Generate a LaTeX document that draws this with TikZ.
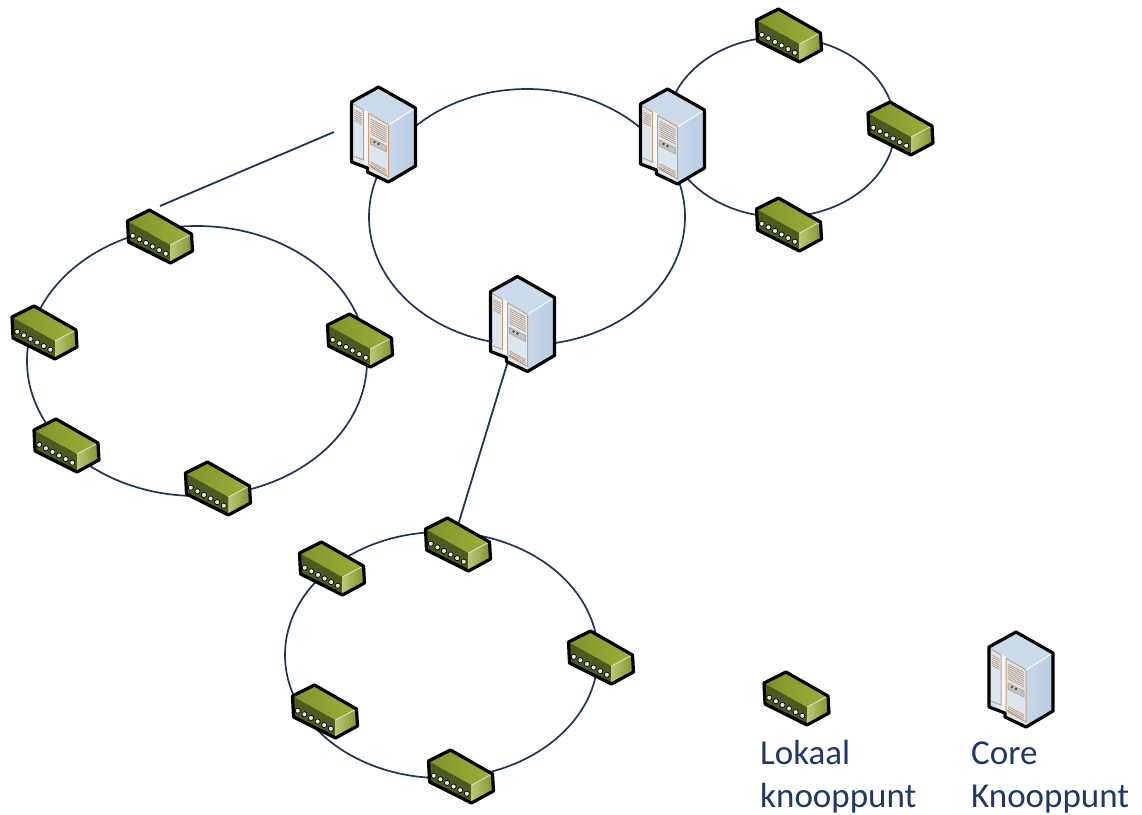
\documentclass[tikz,border=0pt]{standalone}
\usepackage{fontspec}
\setmainfont{Carlito}
\definecolor{ringc}{HTML}{1F3550}
\definecolor{labelc}{HTML}{1F3864}
\definecolor{trim}{HTML}{C8A27C}
\definecolor{switchlight}{HTML}{9DB03C}
\definecolor{switchdark}{HTML}{7F9228}
\definecolor{switchface}{HTML}{4C5C1C}
\definecolor{srvtop}{HTML}{CBDAEB}
\definecolor{srvright}{HTML}{BACDE3}
\definecolor{srvfront}{HTML}{DDE5EF}
\tikzset{
  ring/.style={draw=ringc,line width=1.7pt},
  link/.style={draw=ringc,line width=1.8pt},
  anchorbox/.style={inner sep=0pt,minimum width=60pt,minimum height=50pt},
  edge/.style={draw=black,line width=3.2pt,line join=round},
  legendtext/.style={text=labelc,font=\fontsize{35}{42.5}\selectfont,align=left,anchor=north west,inner sep=0pt},
  switchpic/.pic={
    \shade[left color=switchdark,right color=switchlight] (-11,-26)--(-33,-15)--(10,9)--(31,-2)--cycle;
    \fill[switchface] (-33,-15)--(-32,6)--(10,27)--(10,9)--cycle;
    \shade[left color=switchlight!70!white,right color=switchdark] (10,9)--(31,-2)--(32,15)--(10,27)--cycle;
    \foreach \i in {0,...,5}{
      \draw[black!70,line width=1.2pt] (-27.7+6.6*\i,-7+3.6*\i)--++(0,3);
      \fill[white!90!black,draw=black,line width=.7pt] (-27.7+6.6*\i,-0.3+3.6*\i) circle (2.6);
    }
    \draw[white!70!switchlight,line width=.8pt] (10,9)--(31,-2);
    \draw[edge] (-11,-26)--(-33,-15)--(-32,6)--(10,27)--(32,15)--(31,-2)--cycle;
  },
  serverpic/.pic={
    \fill[srvtop] (-5,-47)--(-32,-32)--(5,-9)--(32,-26)--cycle;
    \shade[left color=srvright!80!white,right color=srvright] (5,-9)--(32,-26)--(32,32)--(5,48)--cycle;
    \fill[srvfront] (-32,-32)--(5,-9)--(5,48)--(-16,38)--(-16,34)--(-32,28)--cycle;
    \fill[white!70!srvfront] (-20,-25)--(-15,-22)--(-15,34)--(-20,30)--cycle;
    \draw[trim,line width=1pt] (-30,-30)--(-20,-24)--(-20,26)--(-30,22);
    \draw[trim,line width=1pt] (-15,31)--(-15,-20.7)--(5,-9)--(5,43)--cycle;
    \foreach \i in {0,...,7}{
      \draw[trim!90!black,line width=.6pt] (-13,-15+2.1*\i)--(3,-6.5+2.1*\i);
      \ifnum\i<6\draw[trim!90!black,line width=.6pt] (-29,-24+2.1*\i)--(-21.5,-20+2.1*\i);\fi
    }
    \foreach \i in {0,...,3}{
      \draw[trim!90!black,line width=.6pt] (-13,27.5+1.9*\i)--(3,36+1.9*\i);
    }
    \draw[trim,fill=srvfront!85!black,line width=.8pt] (-13,4)--(3,12)--(3,18)--(-13,10)--cycle;
    \fill[black!70] (-9,8) circle (1.4) (-5,10) circle (1.4);
    \draw[white,line width=.8pt] (5,-9)--(32,-26);
    \draw[edge] (-5,-47)--(-32,-32)--(-32,28)--(-16,34)--(-16,38)--(5,48)--(32,32)--(32,-26)--cycle;
  },
}
\newcommand{\switchat}[3]{\node[anchorbox] (#1) at (#2,#3) {};\pic at (#2,#3) {switchpic};}
\newcommand{\serverat}[3]{\node[anchorbox] (#1) at (#2,#3) {};\pic at (#2,#3) {serverpic};}
\begin{document}
\begin{tikzpicture}[x=1pt,y=-1pt]
\useasboundingbox (0,0) rectangle (1142,814);
% rings
\draw[ring] (197,361) ellipse [x radius=170,y radius=135];
\draw[ring] (527,217) ellipse [x radius=158,y radius=128];
\draw[ring] (781,127) ellipse [x radius=114,y radius=90];
\draw[ring] (441.5,655) ellipse [x radius=156.5,y radius=123];
% links
\coordinate (lnkA) at (334,132);
\coordinate (lnkB) at (160,206);
\draw[link] (lnkA)--(lnkB);
\coordinate (lnkC) at (515,338);
\coordinate (lnkD) at (455,535);
\draw[link] (lnkC)--(lnkD);
% devices
\switchat{tr1}{789.5}{35}
\switchat{tr2}{901}{128}
\switchat{tr3}{789.5}{224}
\switchat{l1}{160.5}{236}
\switchat{l2}{45}{332}
\switchat{l3}{360.5}{340}
\switchat{l4}{67}{445}
\switchat{l5}{218.5}{488}
\switchat{b1}{458.5}{544}
\switchat{b2}{332.5}{568}
\switchat{b3}{601.5}{657}
\switchat{b4}{325.5}{711}
\switchat{b5}{461.5}{776}
\switchat{legsw}{797}{698}
\serverat{core1}{383.5}{134}
\serverat{core2}{672.5}{136}
\serverat{core3}{522.5}{323.5}
\serverat{legsrv}{1021}{679}
% legend
\node[legendtext] (lt1) at (760,735) {\strut Lokaal\\knooppunt};
\node[legendtext] (lt2) at (971,735) {\strut Core\\Knooppunt};
\end{tikzpicture}
\end{document}
